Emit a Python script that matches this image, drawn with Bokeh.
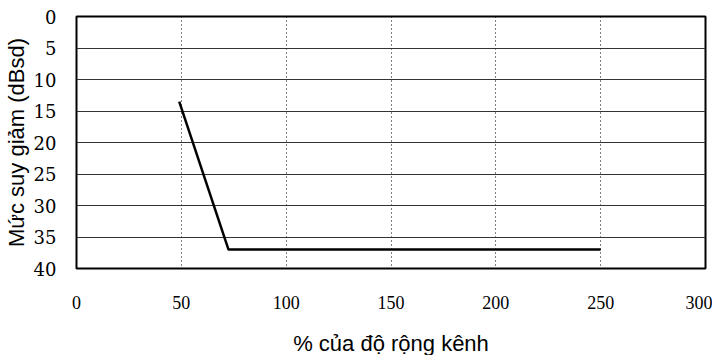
from bokeh.plotting import figure
from bokeh.models import Range1d, FixedTicker
from bokeh.embed import file_html
from bokeh.resources import INLINE

# Data
x_vals = [49, 72.5, 250]
y_vals = [13.5, 37, 37]
x_ticks = [0, 50, 100, 150, 200, 250, 300]
y_ticks = [0, 5, 10, 15, 20, 25, 30, 35, 40]
x_label = "% của độ rộng kênh"
y_label = "Mức suy giảm (dBsd)"

SANS = "Liberation Sans"

p = figure(frame_width=629, frame_height=252, output_backend="svg", toolbar_location=None,
           x_range=Range1d(0, 300), y_range=Range1d(40, 0),
           min_border_left=76, min_border_top=16, min_border_right=7, min_border_bottom=79)
p.outline_line_color = "black"
p.outline_line_width = 2
p.background_fill_color = "white"
p.border_fill_color = "white"

p.line(x_vals, y_vals, line_color="black", line_width=2.5)

for ax in (p.xaxis[0], p.yaxis[0]):
    ax.axis_line_color = None
    ax.major_tick_line_color = None
    ax.minor_tick_line_color = None
    ax.major_label_text_font_size = "18px"
    ax.major_label_text_color = "black"
    ax.axis_label_text_font = SANS
    ax.axis_label_text_font_size = "22px"
    ax.axis_label_text_font_style = "normal"
    ax.axis_label_text_color = "black"

p.xaxis[0].major_label_text_font = "Liberation Serif"
p.yaxis[0].major_label_text_font = "DejaVu Serif"

p.xaxis.ticker = FixedTicker(ticks=x_ticks)
p.yaxis.ticker = FixedTicker(ticks=y_ticks)
p.xaxis.axis_label = x_label
p.yaxis.axis_label = y_label
p.xaxis.major_label_standoff = 21
p.xaxis.axis_label_standoff = 19
p.yaxis.major_label_standoff = 14
p.yaxis.axis_label_standoff = 2

p.ygrid.ticker = FixedTicker(ticks=y_ticks[1:-1])
p.ygrid.grid_line_color = "#333333"
p.ygrid.grid_line_width = 1
p.xgrid.ticker = FixedTicker(ticks=x_ticks[1:-1])
p.xgrid.grid_line_color = "black"
p.xgrid.grid_line_width = 1
p.xgrid.grid_line_dash = "1 3"

open("out.html", "w").write(file_html(p, INLINE))
